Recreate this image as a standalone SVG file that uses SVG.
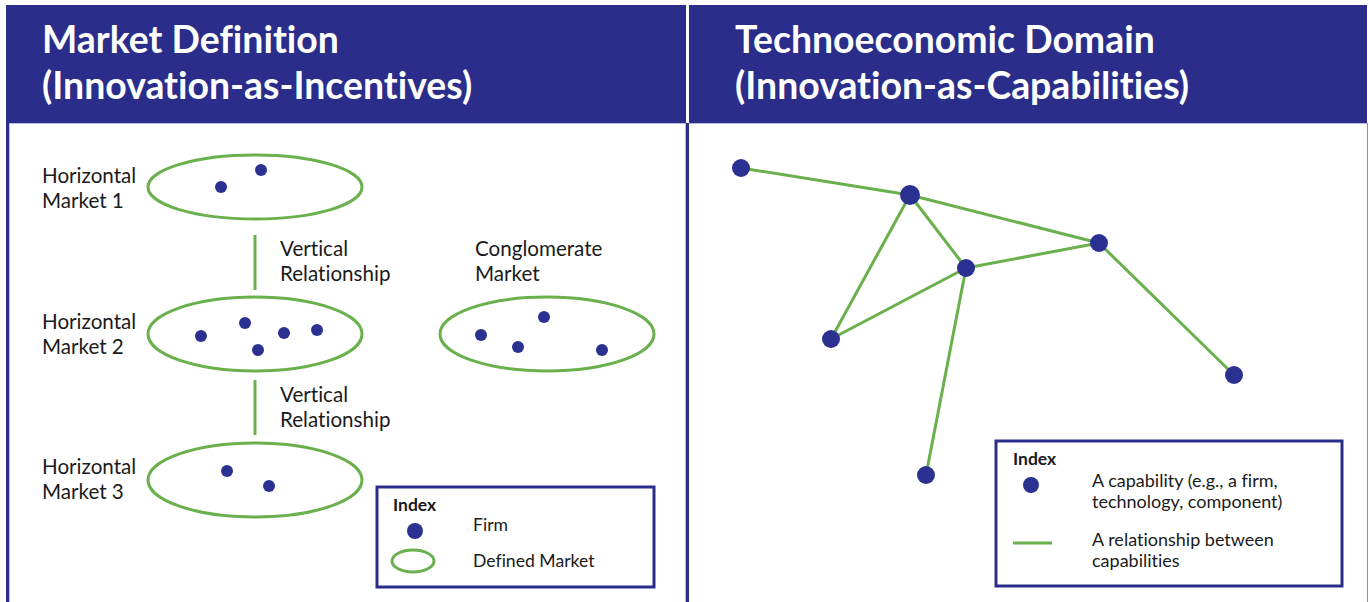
<svg xmlns="http://www.w3.org/2000/svg" width="1369" height="602" viewBox="0 0 1369 602">
<style>
text{font-variant-ligatures:none;font-feature-settings:"liga" 0,"clig" 0}
.hdr{fill:#2a2e8a}
.ht{font-family:Lato,"Liberation Sans",sans-serif;font-weight:700;font-size:37.4px;fill:#fff}
.t{font-family:Lato,"Liberation Sans",sans-serif;font-size:20.6px;fill:#1a1a1a}
.s{font-family:Lato,"Liberation Sans",sans-serif;font-size:17.6px;fill:#1a1a1a}
.s2{font-family:Lato,"Liberation Sans",sans-serif;font-size:18px;fill:#1a1a1a}
.b{font-family:Lato,"Liberation Sans",sans-serif;font-size:17.5px;font-weight:700;fill:#1a1a1a}
.mk{fill:none;stroke:#6ab04c;stroke-width:3}
.dot{fill:#2b3190}
.edge{stroke:#6ab04c;stroke-width:3;fill:none}
.box{fill:#fff;stroke:#2a2e8a;stroke-width:3}
</style>
<rect width="1369" height="602" fill="#fff"/>
<g id="frame">
<rect class="hdr" x="6" y="5" width="680" height="118"/>
<rect class="hdr" x="689" y="5" width="678" height="118"/>
<rect x="6" y="123" width="3" height="479" fill="#2a2e8a"/>
<rect x="9" y="123" width="1" height="479" fill="#b8badf"/>
<rect x="686" y="123" width="3" height="479" fill="#2a2e8a"/>
<rect x="685" y="123" width="1" height="479" fill="#b8badf"/>
<rect x="1367" y="123" width="1" height="479" fill="#8a8dcc"/>
<rect x="9" y="123" width="677" height="1" fill="#b8badf"/>
<rect x="689" y="123" width="678" height="1" fill="#b8badf"/>
<text class="ht" x="42" y="53">Market Definition</text>
<text class="ht" x="42" y="99">(Innovation-as-Incentives)</text>
<text class="ht" x="735" y="53">Technoeconomic Domain</text>
<text class="ht" x="735" y="99">(Innovation-as-Capabilities)</text>
</g>
<g id="connectors">
<line class="edge" x1="255" y1="235" x2="255" y2="290"/>
<line class="edge" x1="255" y1="380" x2="255" y2="435"/>
<line class="edge" x1="741" y1="168" x2="910" y2="195"/>
<line class="edge" x1="910" y1="195" x2="1099" y2="243"/>
<line class="edge" x1="910" y1="195" x2="966" y2="268"/>
<line class="edge" x1="910" y1="195" x2="831" y2="339"/>
<line class="edge" x1="966" y1="268" x2="831" y2="339"/>
<line class="edge" x1="966" y1="268" x2="1099" y2="243"/>
<line class="edge" x1="966" y1="268" x2="926" y2="475"/>
<line class="edge" x1="1099" y1="243" x2="1234" y2="375"/>
</g>
<g id="vlabel1">
<text class="t" x="280" y="256">Vertical</text>
<text class="t" x="280" y="281">Relationship</text>
</g>
<g id="vlabel2">
<text class="t" x="280" y="402">Vertical</text>
<text class="t" x="280" y="427">Relationship</text>
</g>
<g id="market1">
<text class="t" x="42" y="183">Horizontal</text>
<text class="t" x="42" y="208">Market 1</text>
<ellipse class="mk" cx="255" cy="187" rx="107" ry="32"/>
<circle class="dot" cx="221" cy="187" r="6"/>
<circle class="dot" cx="261" cy="170" r="6"/>
</g>
<g id="market2">
<text class="t" x="42" y="329">Horizontal</text>
<text class="t" x="42" y="354">Market 2</text>
<ellipse class="mk" cx="255" cy="334" rx="107" ry="37"/>
<circle class="dot" cx="201" cy="336" r="6"/>
<circle class="dot" cx="245" cy="323" r="6"/>
<circle class="dot" cx="284" cy="333" r="6"/>
<circle class="dot" cx="317" cy="330" r="6"/>
<circle class="dot" cx="258" cy="350" r="6"/>
</g>
<g id="market3">
<text class="t" x="42" y="474">Horizontal</text>
<text class="t" x="42" y="499">Market 3</text>
<ellipse class="mk" cx="255" cy="480" rx="107" ry="37"/>
<circle class="dot" cx="227" cy="471" r="6"/>
<circle class="dot" cx="269" cy="486" r="6"/>
</g>
<g id="conglomerate">
<text class="t" x="475" y="256">Conglomerate</text>
<text class="t" x="475" y="281">Market</text>
<ellipse class="mk" cx="547" cy="334" rx="107" ry="37"/>
<circle class="dot" cx="481" cy="335" r="6"/>
<circle class="dot" cx="544" cy="317" r="6"/>
<circle class="dot" cx="518" cy="347" r="6"/>
<circle class="dot" cx="602" cy="350" r="6"/>
</g>
<g id="legend-left">
<rect class="box" x="377" y="487" width="277" height="100"/>
<text class="b" x="393" y="511">Index</text>
<circle class="dot" cx="415" cy="531" r="8"/>
<text class="s" x="473" y="531">Firm</text>
<ellipse class="mk" cx="413" cy="561" rx="21" ry="11"/>
<text class="s" x="473" y="567">Defined Market</text>
</g>
<g id="nodes">
<circle id="n1" class="dot" cx="741" cy="168" r="9"/>
<circle id="n2" class="dot" cx="910" cy="195" r="10"/>
<circle id="n3" class="dot" cx="966" cy="268" r="9"/>
<circle id="n4" class="dot" cx="1099" cy="243" r="9"/>
<circle id="n5" class="dot" cx="831" cy="339" r="9"/>
<circle id="n6" class="dot" cx="1234" cy="375" r="9"/>
<circle id="n7" class="dot" cx="926" cy="475" r="9"/>
</g>
<g id="legend-right">
<rect class="box" x="996" y="441" width="346" height="145"/>
<text class="b" x="1013" y="465">Index</text>
<circle class="dot" cx="1031" cy="485" r="8"/>
<text class="s2" x="1092" y="487">A capability (e.g., a firm,</text>
<text class="s2" x="1092" y="508">technology, component)</text>
<line class="edge" x1="1013" y1="543" x2="1052" y2="543"/>
<text class="s2" x="1092" y="546">A relationship between</text>
<text class="s2" x="1092" y="567">capabilities</text>
</g>
</svg>
